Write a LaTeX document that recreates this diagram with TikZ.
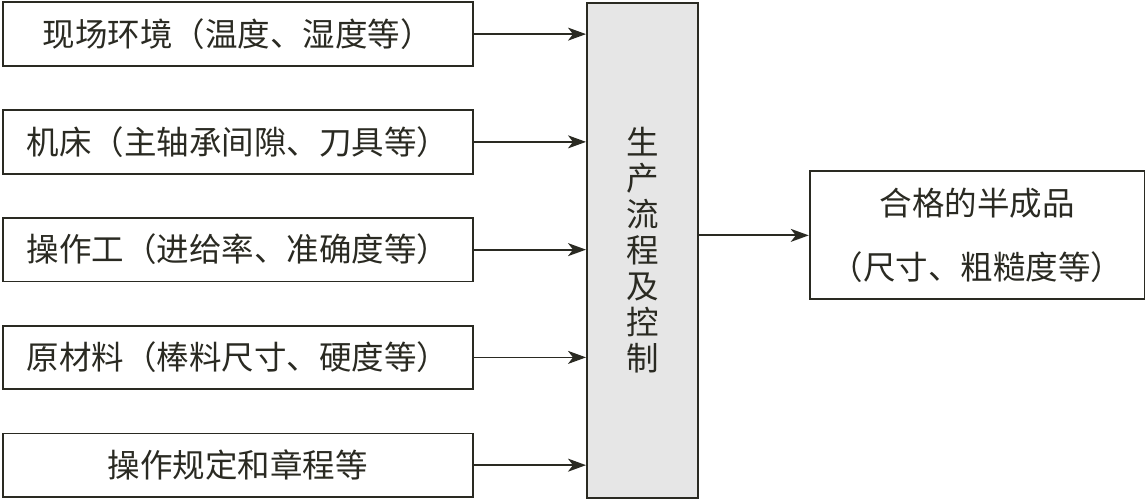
\documentclass[tikz,border=0pt]{standalone}
\usepackage{fontspec}
\newfontfamily\cjk{Noto Sans CJK SC}
\usepackage{tikz}
\usetikzlibrary{arrows.meta,positioning,calc}
\usepackage{xcolor}
\definecolor{lineblack}{HTML}{2A2A22}
\definecolor{procgray}{HTML}{E6E6E6}

\begin{document}
\begin{tikzpicture}[
  node distance=8.5mm and 22mm,
  every node/.style={draw=lineblack, line width=1pt, align=center, text=lineblack, font=\cjk\fontsize{18.5}{20.5}\selectfont},
  inbox/.style={minimum width=94mm, minimum height=12.7mm, inner sep=0pt},
  arr/.style={-{Stealth[length=3.6mm, width=2.6mm, inset=1mm]}, line width=1pt, draw=lineblack},
]
  \useasboundingbox (0,0) rectangle (22.9,-10);

  % Inputs
  \node[inbox, anchor=north west] (env) at (0.04,-0.03) {现场环境（温度、湿度等）};
  \node[inbox, below=of env] (lathe) {机床（主轴承间隙、刀具等）};
  \node[inbox, below=of lathe] (worker) {操作工（进给率、准确度等）};
  \node[inbox, below=of worker] (stock) {原材料（棒料尺寸、硬度等）};
  \node[inbox, below=of stock] (rules) {操作规定和章程等};

  % Process
  \node[fill=procgray, minimum width=22.2mm, minimum height=99mm, inner sep=0pt, anchor=north west] (proc) at (11.72,-0.04)
    {生\\产\\流\\程\\及\\控\\制};

  % Output
  \node[right=22mm of proc, yshift=3mm, minimum width=67mm, minimum height=25.6mm, font=\cjk\fontsize{18.5}{36}\selectfont] (out)
    {合格的半成品\\（尺寸、粗糙度等）};

  \foreach \n in {env,lathe,worker,stock,rules}
    \draw[arr] (\n.east) -- (\n.east -| proc.west);
  \draw[arr] (out.west -| proc.east) -- (out.west);
\end{tikzpicture}
\end{document}
